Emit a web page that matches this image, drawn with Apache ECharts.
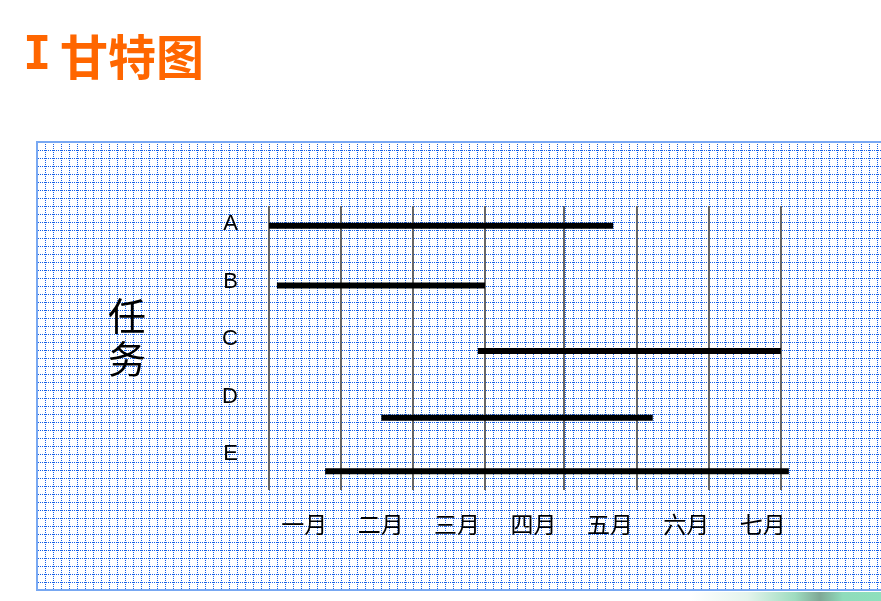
<!DOCTYPE html>
<html>
<head>
<meta charset="utf-8">
<script src="https://cdn.jsdelivr.net/npm/echarts@6/dist/echarts.min.js"></script>
<style>
html,body{margin:0;padding:0;background:#fff;}
#chart{width:881px;height:601px;}
</style>
</head>
<body>
<div id="chart"></div>
<script>
// ---- data ----
const months = ['一月', '二月', '三月', '四月', '五月', '六月', '七月'];
const tasks = ['A', 'B', 'C', 'D', 'E'];
// start / end of each task, in months from the first month line
const taskStart = [0, 0.11, 2.9, 1.56, 0.78];
const taskEnd = [4.78, 3.0, 7.11, 5.33, 7.22];
// row position of each bar (task A label row = 0)
const taskRow = [0.03, 1.07, 2.21, 3.37, 4.30];
// month boundary lines
const monthLines = [0, 1, 2, 3, 4.097, 5.111, 6.111, 7.111];

const chart = echarts.init(document.getElementById('chart'), null, {renderer: 'canvas'});

// dotted graph-paper tile (decoration)
function makeTile() {
  const c = document.createElement('canvas');
  c.width = 8; c.height = 8;
  const ctx = c.getContext('2d');
  const img = ctx.createImageData(8, 8);
  function setPx(x, y) {
    const k = (y * 8 + x) * 4;
    img.data[k] = 20; img.data[k + 1] = 95; img.data[k + 2] = 232; img.data[k + 3] = 255;
  }
  for (let i = 0; i < 8; i++) {
    if (i % 2 === 0) { setPx(i, 6); setPx(5, i); }
  }
  ctx.putImageData(img, 0, 0);
  return c;
}
const tile = makeTile();

const series = [];
series.push({
  type: 'line', xAxisIndex: 0, yAxisIndex: 0, data: [], silent: true, zlevel: 1, z: 3,
  markLine: {
    silent: true, symbol: ['none', 'none'], animation: false,
    label: {show: false},
    lineStyle: {color: '#666', width: 2, type: 'solid'},
    data: monthLines.map(v => ({xAxis: v}))
  }
});
tasks.forEach((t, i) => {
  series.push({
    name: t, type: 'line', xAxisIndex: 0, yAxisIndex: 0, zlevel: 1, z: 5,
    symbol: 'none', showSymbol: false, clip: false, silent: true,
    lineStyle: {color: '#000', width: 6, cap: 'butt'},
    data: [[taskStart[i], taskRow[i]], [taskEnd[i], taskRow[i]]]
  });
});

const option = {
  animation: false,
  backgroundColor: '#fff',
  grid: [
    {left: 269, top: 206, width: 540, height: 284},
    {left: 238, top: 224, width: 1, height: 230},
    {left: 266, top: 480, width: 535, height: 10}
  ],
  xAxis: [
    {gridIndex: 0, type: 'value', min: 0, max: 7.5, show: false},
    {gridIndex: 1, type: 'value', show: false},
    {gridIndex: 2, type: 'category', data: months, zlevel: 1, z: 6,
     axisLine: {show: false}, axisTick: {show: false}, splitLine: {show: false},
     axisLabel: {interval: 0, margin: 23, fontSize: 23, color: '#000',
                 fontFamily: '"Noto Sans CJK SC"', lineHeight: 23}}
  ],
  yAxis: [
    {gridIndex: 0, type: 'value', inverse: true, min: -0.313, max: 4.626, show: false},
    {gridIndex: 1, type: 'category', data: tasks, inverse: true, boundaryGap: false, zlevel: 1, z: 6,
     axisLine: {show: false}, axisTick: {show: false}, splitLine: {show: false},
     axisLabel: {margin: 0, fontSize: 22, color: '#000', fontFamily: '"Liberation Sans"'}},
    {gridIndex: 2, type: 'value', show: false}
  ],
  graphic: [
    {type: 'rect', shape: {x: 37, y: 142, width: 850, height: 448}, zlevel: 0, z: 0, silent: true,
     style: {fill: {image: tile, repeat: 'repeat'}, stroke: '#78a8f2', lineWidth: 2}},
    {type: 'text', x: 23, y: 57, zlevel: 1, z: 10,
     style: {text: 'I', font: 'bold 47px "DejaVu Sans Mono"', fill: '#ff6600', verticalAlign: 'middle'}},
    {type: 'text', x: 60, y: 57, zlevel: 1, z: 10,
     style: {text: '甘特图', font: 'bold 48px "Noto Sans CJK SC"', fill: '#ff6600', verticalAlign: 'middle'}},
    {type: 'text', x: 127, y: 337, zlevel: 1, z: 10,
     style: {text: '任\n务', font: '38px "Noto Sans CJK SC"', fill: '#000',
             align: 'center', verticalAlign: 'middle', lineHeight: 43}},
    {type: 'rect', shape: {x: 690, y: 592, width: 191, height: 9}, zlevel: 1, z: 10, silent: true,
     style: {fill: new echarts.graphic.LinearGradient(0, 0, 1, 0, [
       {offset: 0, color: '#ffffff'},
       {offset: 0.3, color: '#e4f4ec'},
       {offset: 0.55, color: '#9edcbf'},
       {offset: 0.68, color: '#7fa896'},
       {offset: 0.8, color: '#8fdcbb'},
       {offset: 1, color: '#8ee0bc'}
     ])}}
  ],
  series: series
};
chart.setOption(option);
</script>
</body>
</html>
